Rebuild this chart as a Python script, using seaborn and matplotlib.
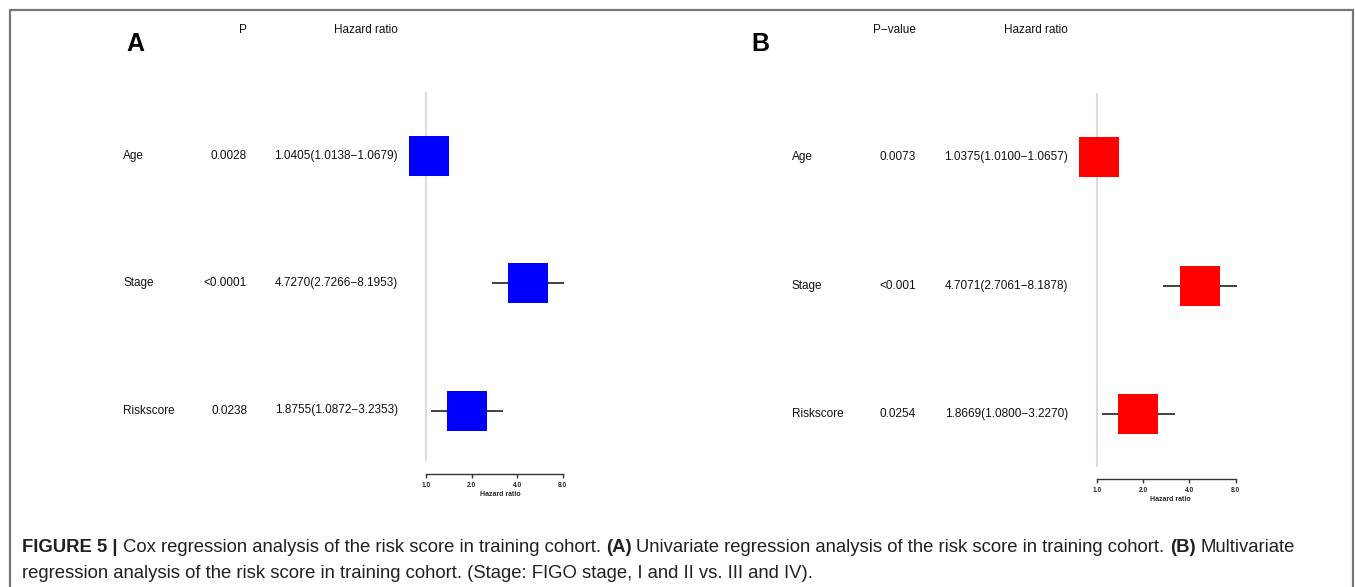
import matplotlib
matplotlib.use("Agg")
import matplotlib.pyplot as plt
import matplotlib.transforms as mtransforms
from matplotlib.lines import Line2D
from matplotlib.ticker import NullLocator
import seaborn as sns

# ---- data -------------------------------------------------------------
variables = ["Age", "Stage", "Riskscore"]

uni_p = ["0.0028", "<0.0001", "0.0238"]
uni_hr = [1.0405, 4.7270, 1.8755]
uni_lo = [1.0138, 2.7266, 1.0872]
uni_hi = [1.0679, 8.1953, 3.2353]

multi_p = ["0.0073", "<0.001", "0.0254"]
multi_hr = [1.0375, 4.7071, 1.8669]
multi_lo = [1.0100, 2.7061, 1.0800]
multi_hi = [1.0657, 8.1878, 3.2270]

hr_ticks = [1, 2, 4, 8]
hr_tick_labels = ["1.0", "2.0", "4.0", "8.0"]

caption_line1 = [
    ("FIGURE 5 |", "bold"),
    ("Cox regression analysis of the risk score in training cohort.", "normal"),
    ("(A)", "bold"),
    ("Univariate regression analysis of the risk score in training cohort.", "normal"),
    ("(B)", "bold"),
    ("Multivariate", "normal"),
]
caption_line2 = [
    ("regression analysis of the risk score in training cohort. (Stage: FIGO stage, I and II vs. III and IV).", "normal"),
]

# ---- figure -------------------------------------------------------------
W, H = 1355, 587
sns.set_theme(style="white")
plt.rcParams["font.family"] = ["Liberation Sans", "DejaVu Sans"]

fig = plt.figure(figsize=(W / 100, H / 100), dpi=100)
fig.patch.set_facecolor("white")


def fx(px):
    return px / W


def fy(py):
    return 1 - py / H


def forest_panel(hr, lo, hi, pvals, color, box, one_px, unit_px, row_top, row_bottom,
                 line_end, cols, headers, letter):
    left, right, top, bottom = box
    ax = fig.add_axes([fx(left), fy(bottom), fx(right - left), (bottom - top) / H])
    pos = list(range(len(variables)))

    ax.hlines(y=pos, xmin=lo, xmax=hi, color="#333333", lw=1.3, zorder=2)
    sns.scatterplot(x=hr, y=pos, marker="s", s=790, color=color, edgecolor=color,
                    linewidth=0, ax=ax, zorder=3, legend=False)
    ax.axvline(1, ymin=(bottom - line_end) / (bottom - top), ymax=1,
               color="#dcdcdc", lw=1.5, zorder=1)

    ax.set_xscale("log", base=2)
    ax.set_xlim(2 ** ((left - one_px) / unit_px), 2 ** ((right - one_px) / unit_px))
    spacing = (row_bottom - row_top) / (len(variables) - 1)
    ax.set_ylim((len(variables) - 1) + (bottom - row_bottom) / spacing,
                -(row_top - top) / spacing)

    for s in ["top", "right", "left"]:
        ax.spines[s].set_visible(False)
    ax.spines["bottom"].set_bounds(hr_ticks[0], hr_ticks[-1])
    ax.spines["bottom"].set_color("#333333")
    ax.spines["bottom"].set_linewidth(1.0)
    ax.set_xticks(hr_ticks)
    ax.set_xticklabels(hr_tick_labels, fontsize=4.7, fontweight="bold")
    ax.xaxis.set_minor_locator(NullLocator())
    ax.tick_params(axis="x", direction="out", length=3, width=1, color="#333333",
                   pad=3, bottom=True)
    ax.set_yticks([])
    ax.set_ylabel("")
    ax.set_xlabel("Hazard ratio", fontsize=5, fontweight="bold", labelpad=1)
    ax.patch.set_alpha(0)

    trans = mtransforms.blended_transform_factory(fig.transFigure, ax.transData)
    lab_x, p_x, hr_x = cols
    txt = dict(fontsize=8.5, color="#111111", va="center")
    for i, name in enumerate(variables):
        fig.text(fx(lab_x), i, name, transform=trans, ha="left", **txt)
        fig.text(fx(p_x), i, pvals[i], transform=trans, ha="right", **txt)
        fig.text(fx(hr_x), i,
                 f"{hr[i]:.4f}({lo[i]:.4f}\u2212{hi[i]:.4f})",
                 transform=trans, ha="right", **txt)
    fig.text(fx(p_x), fy(30), headers[0], ha="right", **txt)
    fig.text(fx(hr_x), fy(30), headers[1], ha="right", **txt)
    fig.text(fx(letter[1]), fy(44), letter[0], ha="left", va="center",
             fontsize=18, fontweight="bold", color="black")
    return ax


forest_panel(uni_hr, uni_lo, uni_hi, uni_p, "#0000ff",
             box=(400, 600, 92, 474), one_px=426.0, unit_px=45.57,
             row_top=156.3, row_bottom=410.5, line_end=460,
             cols=(123, 247, 398), headers=("P", "Hazard ratio"), letter=("A", 126))

forest_panel(multi_hr, multi_lo, multi_hi, multi_p, "#ff0000",
             box=(1070, 1270, 93, 479), one_px=1096.7, unit_px=46.33,
             row_top=157.4, row_bottom=414.0, line_end=466,
             cols=(792, 916, 1068), headers=("P\u2212value", "Hazard ratio"), letter=("B", 751))

# ---- frame --------------------------------------------------------------
frame = dict(color="#777777", lw=1.6, transform=fig.transFigure)
fig.add_artist(Line2D([fx(10), fx(1353)], [fy(10), fy(10)], **frame))
fig.add_artist(Line2D([fx(10), fx(10)], [fy(10), fy(590)], **frame))
fig.add_artist(Line2D([fx(1353), fx(1353)], [fy(10), fy(590)], **frame))

# ---- caption ------------------------------------------------------------
cap_family = ["Liberation Sans", "DejaVu Sans"]
renderer = fig.canvas.get_renderer()


def text_width(s, size, weight):
    t = fig.text(0, 0, s, fontsize=size, fontweight=weight, family=cap_family)
    w = t.get_window_extent(renderer).width
    t.remove()
    return w


def line_width(pieces, size):
    gap = text_width("x x", size, "normal") - text_width("xx", size, "normal")
    return sum(text_width(s, size, w) for s, w in pieces) + gap * (len(pieces) - 1), gap


def draw_line(pieces, x0, y, size):
    _, gap = line_width(pieces, size)
    x = x0
    for s, w in pieces:
        t = fig.text(fx(x), fy(y), s, fontsize=size, fontweight=w, family=cap_family,
                     ha="left", va="center", color="#231f20")
        x += t.get_window_extent(renderer).width + gap


# scale the caption so its first line spans the text block width
base = 13.0
total, _ = line_width(caption_line1, base)
cap_size = base * (1293 - 22) / total
draw_line(caption_line1, 22, 548, cap_size)
draw_line(caption_line2, 22, 574, cap_size)

fig.savefig("out.png", dpi=100, facecolor="white")
